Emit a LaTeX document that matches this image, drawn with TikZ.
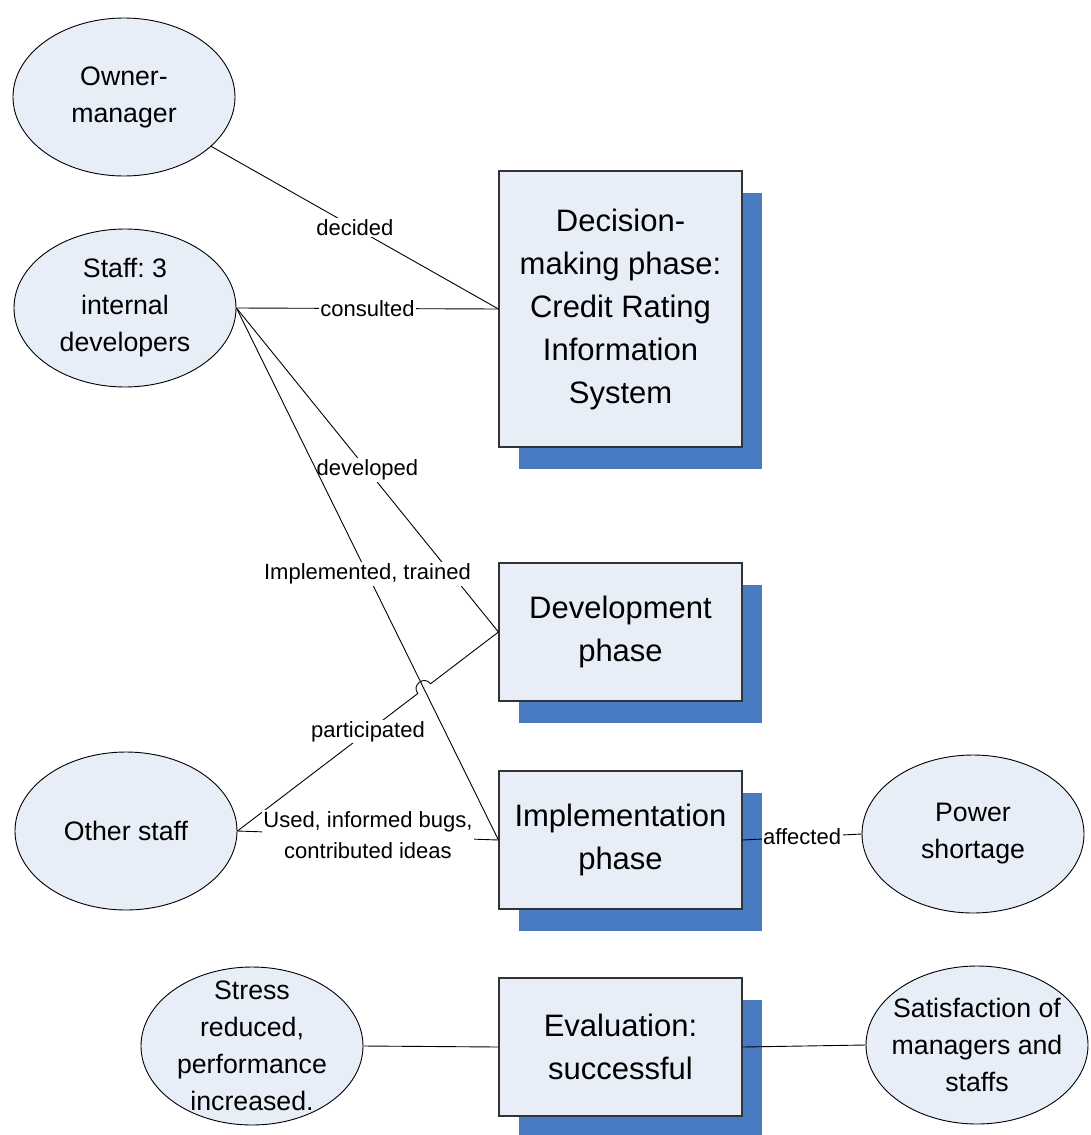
\documentclass[tikz,border=0pt]{standalone}
\usepackage{fontspec}
\setmainfont{Liberation Sans}
\usetikzlibrary{shapes.geometric,shadows}
\definecolor{fillblue}{RGB}{232,238,248}
\definecolor{shadowblue}{RGB}{72,123,193}
\frenchspacing
\begin{document}
\begin{tikzpicture}[x=1pt,y=-1pt,
 oval/.style={ellipse, draw=black, line width=0.9pt, fill=fillblue, minimum width=222pt, minimum height=158pt, inner sep=-40pt, align=center, font=\fontsize{26.7}{37}\selectfont},
 phase/.style={rectangle, draw=black!80, line width=1.1pt, fill=fillblue, minimum width=243pt, minimum height=138pt, inner sep=0pt, align=center, font=\fontsize{31}{43}\selectfont, general shadow={fill=shadowblue, shadow xshift=20pt, shadow yshift=-22pt}},
 link/.style={line width=0.9pt, draw=black},
 lbl/.style={fill=white, inner sep=1.5pt, align=center, font=\fontsize{22}{31}\selectfont}
]
\useasboundingbox (0,0) rectangle (1091,1135);
\fill[white] (0,0) rectangle (1091,1135);

\node[oval] (om) at (124,97) {Owner-\\manager};
\node[oval] (st) at (125,308) {Staff: 3\\internal\\developers};
\node[oval] (os) at (126,831) {Other staff};
\node[oval] (ps) at (973,834) {Power\\shortage};
\node[oval] (sr) at (252,1046) {Stress\\reduced,\\performance\\increased.};
\node[oval] (sat) at (977,1045) {Satisfaction of\\managers and\\staffs};

\node[phase, minimum height=276pt] (dec) at (620.5,309) {Decision-\\making phase:\\Credit Rating\\Information\\System};
\node[phase] (dev) at (620.5,632) {Development\\phase};
\node[phase] (imp) at (620.5,840) {Implementation\\phase};
\node[phase] (ev) at (620.5,1047) {Evaluation:\\successful};

\draw[link] (om) -- node[lbl] (l1) {decided} (dec.west);
\draw[link] (st.east) -- node[lbl] (l2) {consulted} (dec.west);
\draw[link] (st.east) -- node[lbl] (l3) {developed} (dev.west);
\draw[link] (st.east) -- node[lbl] (l4) {Implemented, trained} (imp.west);
\path (os.east) -- (dev.west) coordinate[pos=0.691] (hA) coordinate[pos=0.740] (hB) coordinate[pos=0.5] (pm);
\draw[link] (os.east) -- (hA) to[bend left=90, looseness=1.7] (hB) -- (dev.west);
\node[lbl] (l5) at (pm) {participated};
\draw[link] (os.east) -- node[lbl] (l6) {Used, informed bugs,\\contributed ideas} (imp.west);
\draw[link] (imp.east) -- node[lbl] (l7) {affected} (ps.west);
\draw[link] (sr.east) -- (ev.west);
\draw[link] (ev.east) -- (sat.west);
\end{tikzpicture}
\end{document}
